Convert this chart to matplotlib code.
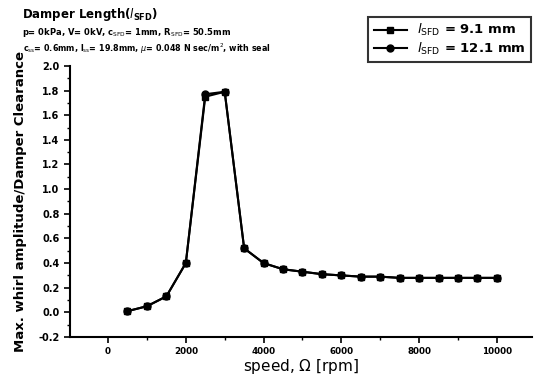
import numpy as np
import matplotlib
matplotlib.use('Agg')
import matplotlib.pyplot as plt
from matplotlib.ticker import MultipleLocator

speed = [500, 1000, 1500, 2000, 2500, 3000, 3500, 4000, 4500, 5000, 5500, 6000,
         6500, 7000, 7500, 8000, 8500, 9000, 9500, 10000]
amp_91 = [0.01, 0.05, 0.13, 0.40, 1.75, 1.79, 0.52, 0.40, 0.35, 0.33, 0.31, 0.30,
          0.29, 0.29, 0.28, 0.28, 0.28, 0.28, 0.28, 0.28]
amp_121 = [0.01, 0.05, 0.13, 0.40, 1.77, 1.79, 0.52, 0.40, 0.35, 0.33, 0.31, 0.30,
           0.29, 0.29, 0.28, 0.28, 0.28, 0.28, 0.28, 0.28]

fig = plt.figure(figsize=(5.34, 3.83), dpi=100)
ax = fig.add_axes([0.131, 0.120, 0.865, 0.708])

ax.plot(speed, amp_91, '-s', color='black', lw=1.5, ms=5,
        label=r'$l_{\mathrm{SFD}}$ = 9.1 mm')
ax.plot(speed, amp_121, '-o', color='black', lw=1.5, ms=5,
        label=r'$l_{\mathrm{SFD}}$ = 12.1 mm')

ax.set_xlim(-980, 10900)
ax.set_ylim(-0.2, 2.0)
ax.xaxis.set_major_locator(MultipleLocator(2000))
ax.xaxis.set_minor_locator(MultipleLocator(1000))
ax.yaxis.set_major_locator(MultipleLocator(0.2))
ax.yaxis.set_minor_locator(MultipleLocator(0.1))
ax.yaxis.set_major_formatter(plt.FuncFormatter(lambda v, p: f'{v:.1f}'))
for s in ['top', 'right']:
    ax.spines[s].set_visible(False)
for s in ['left', 'bottom']:
    ax.spines[s].set_linewidth(1.5)
ax.tick_params(which='major', direction='out', length=4, width=1.2, labelsize=7)
ax.tick_params(which='minor', direction='out', length=2.5, width=1)
ax.tick_params(axis='x', labelsize=6.3, pad=3)
for lab in ax.get_xticklabels() + ax.get_yticklabels():
    lab.set_fontweight('bold')

ax.set_xlabel(r'speed, $\Omega$ [rpm]', fontsize=11, labelpad=1)
ax.set_ylabel('Max. whirl amplitude/Damper Clearance', fontsize=9.5,
              fontweight='bold', labelpad=8)

fig.text(0.041, 0.962, r'Damper Length($l_{\mathbf{SFD}}$)', fontsize=8.5,
         fontweight='bold', va='center')
fig.text(0.041, 0.915, r'p= 0kPa, V= 0kV, c$_{\mathrm{SFD}}$= 1mm, R$_{\mathrm{SFD}}$= 50.5mm',
         fontsize=6, fontweight='bold', va='center')
fig.text(0.043, 0.872, r'c$_{\mathrm{ss}}$= 0.6mm, l$_{\mathrm{ss}}$= 19.8mm, $\mu$= 0.048 N sec/m$^{2}$, with seal',
         fontsize=5.8, fontweight='bold', va='center')

leg = ax.legend(loc='upper left', bbox_to_anchor=(0.632, 1.205), frameon=True,
                fancybox=False, edgecolor='black',
                handlelength=2.5, borderpad=0.4, labelspacing=0.2,
                prop={'weight': 'bold', 'size': 9.5})
leg.get_frame().set_linewidth(1.5)

fig.savefig('out.png', dpi=100)
